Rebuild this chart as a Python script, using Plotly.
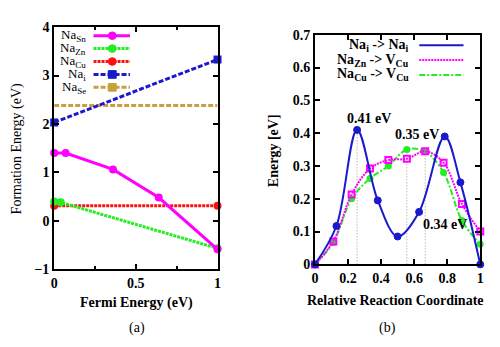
import plotly.graph_objects as go
import numpy as np

# ---- Panel (a): formation energy vs Fermi energy ----
sn_x = [0, 0.07, 0.36, 0.64, 1.0]
sn_y = [1.40, 1.40, 1.06, 0.48, -0.59]
zn_x = [0, 0.04, 1.0]
zn_y = [0.40, 0.38, -0.57]
cu_x = [0, 1.0]
cu_y = [0.31, 0.31]
i_x = [0, 1.0]
i_y = [2.03, 3.33]
se_x = [0, 1.0]
se_y = [2.38, 2.38]

# ---- Panel (b): NEB barriers ----
b1_x = [0, 0.13, 0.255, 0.38, 0.50, 0.63, 0.785, 0.88, 1.0]
b1_y = [0, 0.117, 0.41, 0.195, 0.085, 0.16, 0.39, 0.25, 0.0]
b2_x = [0, 0.111, 0.222, 0.333, 0.444, 0.556, 0.667, 0.778, 0.889, 1.0]
b2_y = [0, 0.07, 0.213, 0.292, 0.318, 0.322, 0.345, 0.31, 0.184, 0.10]
b3_x = [0, 0.111, 0.222, 0.333, 0.444, 0.556, 0.667, 0.778, 0.889, 1.0]
b3_y = [0, 0.067, 0.20, 0.262, 0.30, 0.35, 0.344, 0.28, 0.134, 0.061]

MAG = "#ff00ff"
GRN = "#22ee22"
RED = "#ff1010"
BLU = "#1a1acc"
GLD = "#c8a040"
FONT = "Liberation Serif"

DOT = "3px,1px"
DASH = "5px,2px"

fig = go.Figure()

def add(x, y, color, dash, symbol, xa, ya, width=3, size=8, mode="lines+markers", shape="linear", mline=None):
    marker = dict(color=color, size=size, symbol=symbol)
    if mline:
        marker["line"] = mline
    fig.add_trace(go.Scatter(x=x, y=y, mode=mode, xaxis=xa, yaxis=ya,
                             line=dict(color=color, width=width, dash=dash, shape=shape),
                             marker=marker, cliponaxis=False, showlegend=False))

add(se_x, se_y, GLD, DASH, "square", "x", "y", mode="lines")
add(i_x, i_y, BLU, DASH, "square", "x", "y")
add(cu_x, cu_y, RED, DOT, "circle", "x", "y")
add(zn_x, zn_y, GRN, DOT, "circle", "x", "y")
add(sn_x, sn_y, MAG, "solid", "circle", "x", "y")

# vertical dotted lines at barrier maxima
pk1 = int(np.argmax(b1_y[:5]))
pk3 = int(np.argmax(b3_y))
pk2 = int(np.argmax(b2_y))
for xv, yv in [(b1_x[pk1], b1_y[pk1]), (b3_x[pk3], b3_y[pk3]), (b2_x[pk2], b2_y[pk2])]:
    fig.add_trace(go.Scatter(x=[xv, xv], y=[0, yv], mode="lines", xaxis="x2", yaxis="y2",
                             line=dict(color="#999999", width=1, dash="1px,2px"), showlegend=False))

add(b3_x, b3_y, GRN, "6px,2px,2px,2px", "circle", "x2", "y2", width=2, size=7, shape="spline")
add(b2_x, b2_y, MAG, "2px,1px", "square-open", "x2", "y2", width=2, size=6, shape="spline",
    mline=dict(color=MAG, width=2))
add(b1_x, b1_y, BLU, "solid", "circle", "x2", "y2", width=2, size=7, shape="spline",
    mline=dict(color=BLU, width=1))

axis_common = dict(showline=True, linecolor="black", linewidth=2, mirror="ticks",
                   ticks="inside", ticklen=5, tickwidth=1.5, tickcolor="black",
                   showgrid=False, zeroline=False,
                   tickfont=dict(family=FONT, size=14, color="black", weight="bold"))

def px(v):
    return v / 500.0

def py(v):
    return 1 - v / 347.0

fig.update_layout(
    width=500, height=347, margin=dict(l=0, r=0, t=0, b=0),
    paper_bgcolor="white", plot_bgcolor="white",
    font=dict(family=FONT, size=14, color="black"),
    xaxis=dict(domain=[px(51), px(217)], range=[0, 1], tickvals=[0, 0.5, 1],
               ticktext=["0", "0.5", "1"], anchor="y",
               minor=dict(tickvals=[0.25, 0.75], ticks="inside", ticklen=3, tickcolor="black"),
               **axis_common),
    yaxis=dict(domain=[py(274), py(21)], range=[-1, 4], tickvals=[-1, 0, 1, 2, 3, 4],
               anchor="x", **axis_common),
    xaxis2=dict(domain=[px(316), px(484)], range=[0, 1], tickvals=[0, 0.2, 0.4, 0.6, 0.8, 1],
                ticktext=["0", "0.2", "0.4", "0.6", "0.8", "1"], anchor="y2", **axis_common),
    yaxis2=dict(domain=[py(269), py(29)], range=[0, 0.7],
                tickvals=[0, 0.1, 0.2, 0.3, 0.4, 0.5, 0.6, 0.7],
                ticktext=["0", "0.1", "0.2", "0.3", "0.4", "0.5", "0.6", "0.7"],
                anchor="x2", **axis_common),
)

ann = []
shapes = []

def text(x, y, t, size=14, xanchor="center", angle=0, bold=False):
    ann.append(dict(x=px(x), y=py(y), xref="paper", yref="paper", text=t, showarrow=False,
                    xanchor=xanchor, yanchor="middle", textangle=angle,
                    font=dict(family=FONT, size=size, color="black",
                              weight="bold" if bold else "normal")))

# axis titles & captions
text(135, 309, "Fermi Energy (eV)", 14, bold=True)
text(398, 307, "Relative Reaction Coordinate", 14, bold=True)
text(135, 336, "(a)", 14)
text(390, 336, "(b)", 14)
text(13, 148, "Formation Energy (eV)", 14, angle=-90)
text(274, 150, "Energy [eV]", 14, angle=-90, bold=True)

# barrier labels
text(371, 117, "0.41 eV", 14, bold=True)
text(420, 133, "0.35 eV", 14, bold=True)
text(448, 227, "0.34 eV", 14, bold=True)

# legend (a)
leg_a = [("Na<sub>Sn</sub>", MAG, "solid", "circle"),
         ("Na<sub>Zn</sub>", GRN, DOT, "circle"),
         ("Na<sub>Cu</sub>", RED, DOT, "circle"),
         ("Na<sub>i</sub>", BLU, DASH, "square"),
         ("Na<sub>Se</sub>", GLD, DASH, "square")]
for k, (t, c, d, s) in enumerate(leg_a):
    yy = 30 + k * 13.5
    text(85, yy, t, 13, xanchor="right")
    shapes.append(dict(type="line", xref="paper", yref="paper", x0=px(91), x1=px(128),
                       y0=py(yy), y1=py(yy), line=dict(color=c, width=3, dash=d)))
    r = 4
    shapes.append(dict(type="circle" if s == "circle" else "rect", xref="paper", yref="paper",
                       x0=px(110 - r), x1=px(110 + r), y0=py(yy - r), y1=py(yy + r),
                       fillcolor=c, line=dict(color=c, width=1)))

# legend (b)
leg_b = [("Na<sub>i</sub> -> Na<sub>i</sub>", BLU, "solid"),
         ("Na<sub>Zn</sub> -> V<sub>Cu</sub>", MAG, "2px,1px"),
         ("Na<sub>Cu</sub> -> V<sub>Cu</sub>", GRN, "6px,2px,2px,2px")]
for k, (t, c, d) in enumerate(leg_b):
    yy = 40 + k * 15.5
    text(414, yy, t, 14, xanchor="right", bold=True)
    shapes.append(dict(type="line", xref="paper", yref="paper", x0=px(422), x1=px(467),
                       y0=py(yy), y1=py(yy), line=dict(color=c, width=2, dash=d)))

fig.update_layout(annotations=ann, shapes=shapes)
fig.write_html("out.html")
